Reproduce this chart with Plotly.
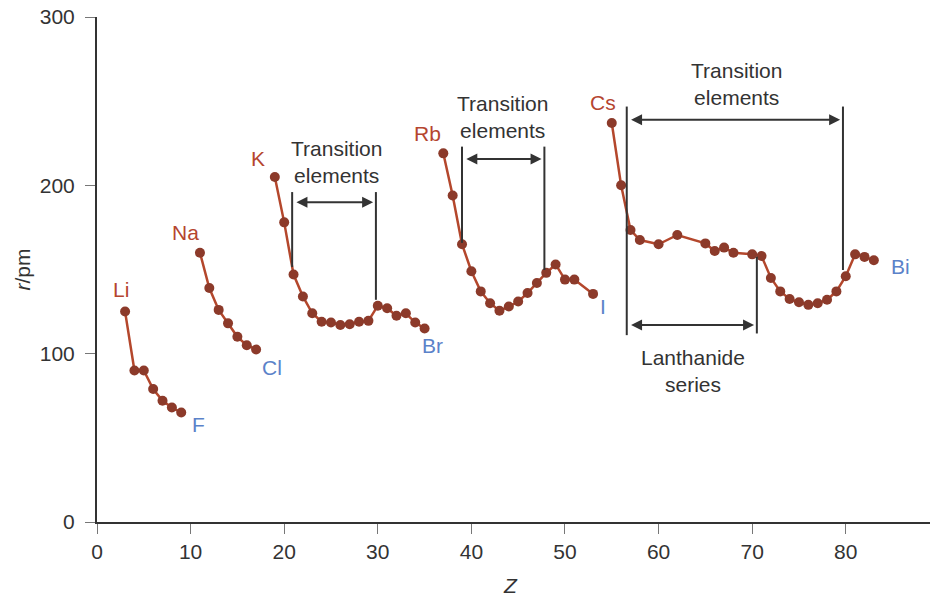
import plotly.graph_objects as go

# ---- data ----
z_p2 = [3, 4, 5, 6, 7, 8, 9]
r_p2 = [125, 90, 90, 79, 72, 68, 65]

z_p3 = [11, 12, 13, 14, 15, 16, 17]
r_p3 = [160, 139, 126, 118, 110, 105, 102.5]

z_p4 = [19, 20, 21, 22, 23, 24, 25, 26, 27, 28, 29, 30, 31, 32, 33, 34, 35]
r_p4 = [205, 178, 147, 134, 124, 119, 118.5, 117, 117.5, 119, 119.5, 128.5, 127, 122.5, 124, 118.5, 115]

z_p5 = [37, 38, 39, 40, 41, 42, 43, 44, 45, 46, 47, 48, 49, 50, 51, 53]
r_p5 = [219, 194, 165, 149, 137, 130, 125.5, 128, 131, 136, 142, 148, 153, 144, 144, 135.5]

z_p6 = [55, 56, 57, 58, 60, 62, 65, 66, 67, 68, 70, 71, 72, 73, 74, 75, 76, 77, 78, 79, 80, 81, 82, 83]
r_p6 = [237, 200, 173.5, 167.5, 165, 170.5, 165.5, 161, 163, 160, 159, 158, 145, 137, 132.5, 130.5,
        129, 130, 132, 137, 146, 159, 157.5, 155.5]

periods = [(z_p2, r_p2), (z_p3, r_p3), (z_p4, r_p4), (z_p5, r_p5), (z_p6, r_p6)]

first_labels = ["Li", "Na", "K", "Rb", "Cs"]
first_pos = [(2.6, 138), (9.5, 172), (17.2, 216), (35.3, 231), (54.1, 249)]
last_labels = ["F", "Cl", "Br", "I", "Bi"]
last_pos = [(10.8, 58), (18.7, 92), (35.8, 105), (54.1, 128), (85.8, 152)]

x_ticks = [0, 10, 20, 30, 40, 50, 60, 70, 80]
y_ticks = [0, 100, 200, 300]

# bracket annotations: (left Z, right Z, top y, left bottom, right bottom, arrow y, text x, text y, text)
brackets = [
    (20.85, 29.8, 196, 151.5, 132, 190, 25.6, 214, "Transition<br>elements"),
    (39.0, 47.8, 223, 165.8, 149.7, 215.7, 43.3, 240.5, "Transition<br>elements"),
    (56.6, 79.7, 246.8, 111, 149.7, 238.9, 68.3, 260, "Transition<br>elements"),
]
lanth = (56.6, 70.5, 157.6, 112, 117, 63.7, 90, "Lanthanide<br>series")

LINE_C = "#B4472C"
MARK_C = "#8C3A2A"
RED_T = "#B5452F"
BLUE_T = "#5B82C9"
DARK = "#333333"
FONT = "Liberation Sans, Arial, sans-serif"
FS = 21

fig = go.Figure()
for z, r in periods:
    fig.add_trace(go.Scatter(
        x=z, y=r, mode="lines+markers",
        line=dict(color=LINE_C, width=2.5),
        marker=dict(color=MARK_C, size=10),
        showlegend=False, hoverinfo="skip"))

shapes = []
annotations = []
for lab, (x, y) in zip(first_labels, first_pos):
    annotations.append(dict(x=x, y=y, text=lab, showarrow=False,
                            font=dict(color=RED_T, size=FS, family=FONT)))
for lab, (x, y) in zip(last_labels, last_pos):
    annotations.append(dict(x=x, y=y, text=lab, showarrow=False,
                            font=dict(color=BLUE_T, size=FS, family=FONT)))

def vline(x, y0, y1):
    shapes.append(dict(type="line", xref="x", yref="y", x0=x, x1=x, y0=y0, y1=y1,
                       line=dict(color=DARK, width=2)))

def darrow(x0, x1, y):
    annotations.append(dict(x=x1 - 0.3, y=y, ax=x0 + 0.3, ay=y, axref="x", ayref="y",
                            xref="x", yref="y", text="", showarrow=True,
                            arrowhead=2, startarrowhead=2, arrowside="end+start",
                            arrowsize=1.1, arrowwidth=2, arrowcolor=DARK, standoff=0,
                            startstandoff=0))

for xl, xr, top, bl, br, ay, tx, ty, txt in brackets:
    vline(xl, bl, top)
    vline(xr, br, top)
    darrow(xl, xr, ay)
    annotations.append(dict(x=tx, y=ty, text=txt, showarrow=False,
                            font=dict(color=DARK, size=FS, family=FONT)))

xl, xr, top, bot, ay, tx, ty, txt = lanth
vline(xr, bot, top)
darrow(xl, xr, ay)
annotations.append(dict(x=tx, y=ty, text=txt, showarrow=False,
                        font=dict(color=DARK, size=FS, family=FONT)))

# axis titles
annotations.append(dict(xref="paper", yref="paper", x=-0.09, y=0.5, text="<i>r</i>/pm",
                        textangle=-90, showarrow=False, xanchor="center", yanchor="middle",
                        font=dict(color=DARK, size=FS, family=FONT)))
annotations.append(dict(xref="paper", yref="paper", x=0.496, y=-0.125, text="<i>Z</i>",
                        showarrow=False, xanchor="center", yanchor="middle",
                        font=dict(color=DARK, size=FS, family=FONT)))

fig.update_layout(
    width=932, height=597,
    margin=dict(l=97, r=2, t=17, b=75),
    paper_bgcolor="white", plot_bgcolor="white",
    font=dict(family=FONT, color=DARK, size=FS),
    shapes=shapes, annotations=annotations,
    xaxis=dict(range=[0, 89], tickvals=x_ticks, showgrid=False, zeroline=False,
               showline=True, linecolor=DARK, linewidth=2,
               ticks="outside", ticklen=10, tickcolor="#777", tickwidth=1,
               tickfont=dict(size=FS, color=DARK)),
    yaxis=dict(range=[0, 300], tickvals=y_ticks, showgrid=False, zeroline=False,
               showline=True, linecolor=DARK, linewidth=2,
               ticks="outside", ticklen=10, tickcolor="#777", tickwidth=1,
               tickfont=dict(size=FS, color=DARK), ticklabelstandoff=6),
)

# remove the default 8px page margin so the figure sits at the window's corner
fig.write_html("out.html", config={"displayModeBar": False},
               post_script="document.body.style.margin='0';")
